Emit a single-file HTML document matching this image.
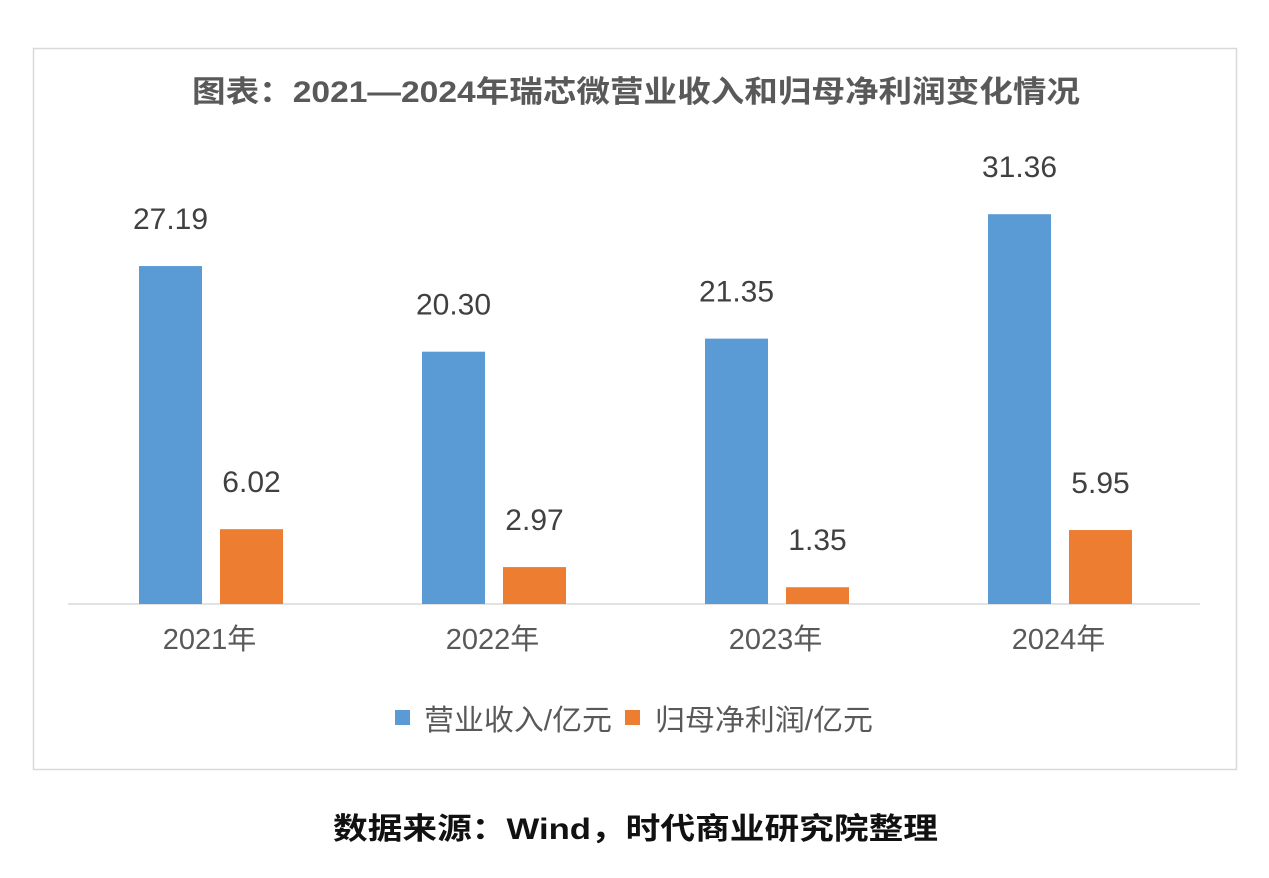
<!DOCTYPE html>
<html><head><meta charset="utf-8">
<style>
body{margin:0;background:#fff;width:1269px;height:873px;overflow:hidden;font-family:"Liberation Sans","Noto Sans CJK SC",sans-serif;}
svg text{font-family:"Liberation Sans","Noto Sans CJK SC",sans-serif;}
</style></head>
<body>
<svg id="chart" width="1269" height="873">
<rect x="33.5" y="48.5" width="1203" height="721" fill="#fff" stroke="#d9d9d9" stroke-width="1.5"/>
<text x="192" y="102" font-size="30" font-weight="bold" fill="#595959" textLength="888" lengthAdjust="spacingAndGlyphs">图表：2021—2024年瑞芯微营业收入和归母净利润变化情况</text>
<line x1="68" y1="604" x2="1200" y2="604" stroke="#d9d9d9" stroke-width="1.5"/>
<g id="bars"></g>
<rect x="395" y="710" width="15" height="15" fill="#5B9BD5"/>
<text x="424" y="730" font-size="29" fill="#595959" textLength="188" lengthAdjust="spacingAndGlyphs">营业收入/亿元</text>
<rect x="625" y="710" width="15" height="15" fill="#ED7D31"/>
<text x="655" y="730" font-size="29" fill="#595959" textLength="218" lengthAdjust="spacingAndGlyphs">归母净利润/亿元</text>
<text x="333" y="839" font-size="30" font-weight="bold" fill="#111" textLength="605" lengthAdjust="spacingAndGlyphs">数据来源：Wind，时代商业研究院整理</text>
</svg>
<script>
const categories = ["2021年","2022年","2023年","2024年"];
const revenue = [27.19, 20.30, 21.35, 31.36];
const profit = [6.02, 2.97, 1.35, 5.95];
const revenueLabels = ["27.19","20.30","21.35","31.36"];
const profitLabels = ["6.02","2.97","1.35","5.95"];

const NS="http://www.w3.org/2000/svg";
const g=document.getElementById('bars');
const x0=68, band=283, base=604, k=12.43, bw=63;
function y(v){return base - v*k;}
function mk(tag,attrs){const e=document.createElementNS(NS,tag);for(const a in attrs)e.setAttribute(a,attrs[a]);g.appendChild(e);return e;}
categories.forEach((c,i)=>{
  const bx=x0+band*i;
  const r1=mk('rect',{x:bx+71,y:y(revenue[i]),width:bw,height:revenue[i]*k,fill:'#5B9BD5'});
  
  
  const r2=mk('rect',{x:bx+152,y:y(profit[i]),width:bw,height:profit[i]*k,fill:'#ED7D31'});
  
  
  const t1=mk('text',{x:bx+71+bw/2,y:y(revenue[i])-37,'text-anchor':'middle','font-size':30,fill:'#404040'});
  t1.textContent=revenueLabels[i];
  
  
  const t2=mk('text',{x:bx+152+bw/2,y:y(profit[i])-37,'text-anchor':'middle','font-size':30,fill:'#404040'});
  t2.textContent=profitLabels[i];
  
  
  const t3=mk('text',{x:bx+band/2,y:649,'text-anchor':'middle','font-size':29,fill:'#595959'});
  t3.textContent=c;
  
  
});
</script>
</body></html>
